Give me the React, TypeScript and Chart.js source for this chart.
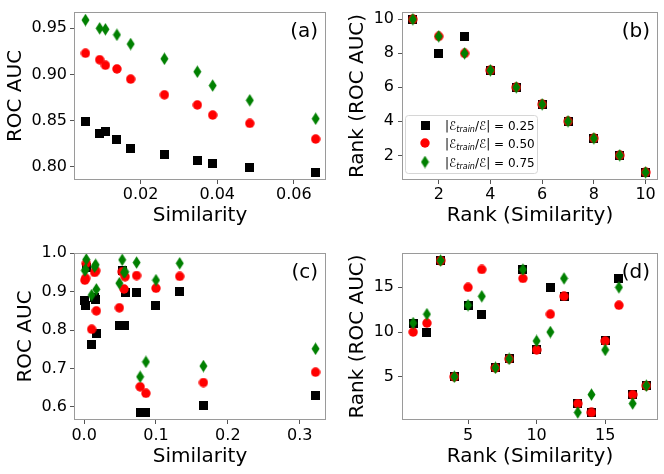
import React, { useEffect, useRef } from 'react';
import { Chart, registerables } from 'chart.js';

Chart.register(...registerables);

const FONT = '"DejaVu Sans", sans-serif';

// ---- Panel (a): similarity vs ROC AUC (10 graphs)
const SIM_A = [0.0056, 0.0093, 0.0108, 0.0138, 0.0174, 0.0262, 0.0348, 0.0388, 0.0485, 0.0657];
const AUC_A_025 = [0.849, 0.836, 0.838, 0.830, 0.820, 0.813, 0.807, 0.803, 0.799, 0.794];
const AUC_A_050 = [0.923, 0.916, 0.910, 0.906, 0.895, 0.878, 0.867, 0.856, 0.847, 0.830];
const AUC_A_075 = [0.959, 0.950, 0.949, 0.943, 0.933, 0.917, 0.903, 0.888, 0.872, 0.852];
const X_TICKS_A = [0.02, 0.04, 0.06];
const Y_TICKS_A = [0.80, 0.85, 0.90, 0.95];

// ---- Panel (b): rank vs rank
const RANK_SIM_B = [1, 2, 3, 4, 5, 6, 7, 8, 9, 10];
const RANK_AUC_B_025 = [10, 8, 9, 7, 6, 5, 4, 3, 2, 1];
const RANK_AUC_B_050 = [10, 9, 8, 7, 6, 5, 4, 3, 2, 1];
const RANK_AUC_B_075 = [10, 9, 8, 7, 6, 5, 4, 3, 2, 1];
const X_TICKS_B = [2, 4, 6, 8, 10];
const Y_TICKS_B = [2, 4, 6, 8, 10];

// ---- Panel (c): similarity vs ROC AUC (18 graphs)
const SIM_C = [0.001, 0.002, 0.003, 0.0105, 0.0146, 0.016, 0.017, 0.049, 0.053, 0.0555, 0.057, 0.073, 0.078, 0.086, 0.100, 0.133, 0.166, 0.322];
const AUC_C_025 = [0.876, 0.865, 0.962, 0.761, 0.884, 0.880, 0.791, 0.812, 0.955, 0.813, 0.898, 0.897, 0.585, 0.584, 0.863, 0.900, 0.602, 0.630];
const AUC_C_050 = [0.930, 0.935, 0.974, 0.802, 0.950, 0.955, 0.850, 0.858, 0.952, 0.907, 0.939, 0.942, 0.652, 0.635, 0.909, 0.940, 0.663, 0.690];
const AUC_C_075 = [0.955, 0.958, 0.984, 0.891, 0.965, 0.970, 0.906, 0.922, 0.983, 0.950, 0.952, 0.976, 0.678, 0.717, 0.930, 0.974, 0.706, 0.751];
const X_TICKS_C = [0.0, 0.1, 0.2, 0.3];
const Y_TICKS_C = [0.6, 0.7, 0.8, 0.9, 1.0];

// ---- Panel (d): rank vs rank
const RANK_SIM_D = [1, 2, 3, 4, 5, 6, 7, 8, 9, 10, 11, 12, 13, 14, 15, 16, 17, 18];
const RANK_AUC_D_025 = [11, 10, 18, 5, 13, 12, 6, 7, 17, 8, 15, 14, 2, 1, 9, 16, 3, 4];
const RANK_AUC_D_050 = [10, 11, 18, 5, 15, 17, 6, 7, 16, 8, 12, 14, 2, 1, 9, 13, 3, 4];
const RANK_AUC_D_075 = [11, 12, 18, 5, 13, 14, 6, 7, 17, 9, 10, 16, 1, 3, 8, 15, 2, 4];
const X_TICKS_D = [5, 10, 15];
const Y_TICKS_D = [5, 10, 15];

const LEGEND_VALUES = ['0.25', '0.50', '0.75'];
const SERIES_COLORS = ['#000000', '#ff0000', '#008000'];

const PANELS = [
  {
    label: '(a)', left: 0, top: 0, pad: { left: 0, top: 12, right: 2, bottom: 9 }, wy: 74, hx: 48,
    yTitlePad: 4, yTickPad: 3, xTickPad: 1,
    xs: SIM_A, ys: [AUC_A_025, AUC_A_050, AUC_A_075],
    xMin: 0.0026, xMax: 0.0684, yMin: 0.7856, yMax: 0.9677,
    xTicks: X_TICKS_A, yTicks: Y_TICKS_A,
    fx: (v) => v.toFixed(2), fy: (v) => v.toFixed(2),
    xTitle: 'Similarity', yTitle: 'ROC AUC', legend: false,
  },
  {
    label: '(b)', left: 332, top: 0, pad: { left: 0, top: 12, right: 5, bottom: 9 }, wy: 70, hx: 48,
    yTitlePad: 14, yTickPad: 4, xTickPad: 1,
    xs: RANK_SIM_B, ys: [RANK_AUC_B_025, RANK_AUC_B_050, RANK_AUC_B_075],
    xMin: 0.58, xMax: 10.48, yMin: 0.55, yMax: 10.43,
    xTicks: X_TICKS_B, yTicks: Y_TICKS_B,
    fx: (v) => String(v), fy: (v) => String(v),
    xTitle: 'Rank (Similarity)', yTitle: 'Rank (ROC AUC)', legend: true,
  },
  {
    label: '(c)', left: 0, top: 237, pad: { left: 0, top: 16, right: 2, bottom: 5 }, wy: 74, hx: 49,
    yTitlePad: 14, yTickPad: 3, xTickPad: 2,
    xs: SIM_C, ys: [AUC_C_025, AUC_C_050, AUC_C_075],
    xMin: -0.0141, xMax: 0.3366, yMin: 0.5653, yMax: 1.0008,
    xTicks: X_TICKS_C, yTicks: Y_TICKS_C,
    fx: (v) => v.toFixed(1), fy: (v) => v.toFixed(1),
    xTitle: 'Similarity', yTitle: 'ROC AUC', legend: false,
  },
  {
    label: '(d)', left: 332, top: 237, pad: { left: 0, top: 16, right: 5, bottom: 5 }, wy: 70, hx: 49,
    yTitlePad: 14, yTickPad: 4, xTickPad: 2,
    xs: RANK_SIM_D, ys: [RANK_AUC_D_025, RANK_AUC_D_050, RANK_AUC_D_075],
    xMin: 0.185, xMax: 18.85, yMin: 0.16, yMax: 18.84,
    xTicks: X_TICKS_D, yTicks: Y_TICKS_D,
    fx: (v) => String(v), fy: (v) => String(v),
    xTitle: 'Rank (Similarity)', yTitle: 'Rank (ROC AUC)', legend: false,
  },
];

function makeMarker(kind: string): HTMLCanvasElement {
  const c = document.createElement('canvas');
  if (kind === 'square') {
    c.width = 9; c.height = 9;
    const g = c.getContext('2d')!;
    g.fillStyle = SERIES_COLORS[0];
    g.fillRect(0, 0, 9, 9);
  } else if (kind === 'circle') {
    c.width = 10; c.height = 10;
    const g = c.getContext('2d')!;
    g.fillStyle = SERIES_COLORS[1];
    g.beginPath();
    g.arc(5, 5, 4.7, 0, Math.PI * 2);
    g.fill();
  } else {
    c.width = 9; c.height = 13;
    const g = c.getContext('2d')!;
    g.fillStyle = SERIES_COLORS[2];
    g.beginPath();
    g.moveTo(4.5, 0.2);
    g.lineTo(8.5, 6.5);
    g.lineTo(4.5, 12.8);
    g.lineTo(0.5, 6.5);
    g.closePath();
    g.fill();
  }
  return c;
}

function drawLegend(ctx: CanvasRenderingContext2D, a: any, markers: HTMLCanvasElement[]) {
  const bx = Math.round(a.left) + 3.5;
  const by = Math.round(a.bottom) - 64.5;
  const bw = 132, bh = 58;
  ctx.save();
  ctx.beginPath();
  if ((ctx as any).roundRect) (ctx as any).roundRect(bx, by, bw, bh, 3);
  else ctx.rect(bx, by, bw, bh);
  ctx.fillStyle = 'rgba(255,255,255,0.8)';
  ctx.fill();
  ctx.strokeStyle = '#d6d6d6';
  ctx.lineWidth = 1;
  ctx.stroke();
  const rows = [a.bottom - 55, a.bottom - 37, a.bottom - 18];
  LEGEND_VALUES.forEach((val, i) => {
    const y = rows[i];
    const m = markers[i];
    ctx.drawImage(m, a.left + 23 - m.width / 2, y - m.height / 2);
    let x = a.left + 43;
    ctx.textAlign = 'left';
    ctx.textBaseline = 'alphabetic';
    ctx.fillStyle = '#000';
    const base = y + 4.5;
    const seg = (t: string, font: string, dy = 0) => {
      ctx.font = font;
      ctx.fillText(t, x, base + dy);
      x += ctx.measureText(t).width;
    };
    const n = `12px ${FONT}`;
    seg('|', n);
    seg('ℰ', n);
    seg('train', `italic 8px ${FONT}`, 2.5);
    seg('/', n);
    seg('ℰ', n);
    seg('|', n);
    seg(' = ' + val, n);
  });
  ctx.restore();
}

function framePlugin(p: any, markers: HTMLCanvasElement[]) {
  return {
    id: 'frame' + p.label,
    afterDatasetsDraw(chart: any) {
      const { ctx, chartArea: a } = chart;
      ctx.save();
      ctx.strokeStyle = '#9a9a9a';
      ctx.lineWidth = 1;
      ctx.strokeRect(Math.round(a.left) + 0.5, Math.round(a.top) + 0.5,
        Math.round(a.right) - Math.round(a.left) - 1, Math.round(a.bottom) - Math.round(a.top) - 1);
      ctx.restore();
    },
    afterDraw(chart: any) {
      const { ctx, chartArea: a } = chart;
      ctx.save();
      ctx.font = `20px ${FONT}`;
      ctx.fillStyle = '#000';
      ctx.textAlign = 'right';
      ctx.textBaseline = 'middle';
      ctx.fillText(p.label, a.right - 8, a.top + 20);
      ctx.restore();
      if (p.legend) drawLegend(ctx, a, markers);
    },
  };
}

function buildConfig(p: any, markers: HTMLCanvasElement[]): any {
  const datasets = p.ys.map((ys: number[], k: number) => ({
    label: LEGEND_VALUES[k],
    data: p.xs.map((x: number, j: number) => ({ x, y: ys[j] })),
    pointStyle: markers[k],
    pointRadius: 5,
    pointHoverRadius: 5,
    backgroundColor: SERIES_COLORS[k],
    borderColor: SERIES_COLORS[k],
    order: 3 - k,
    clip: 0,
  }));
  const gridOpts = { display: true, drawOnChartArea: false, drawTicks: true, tickLength: 4, tickColor: '#555', tickWidth: 1 };
  return {
    type: 'scatter',
    data: { datasets },
    options: {
      responsive: false,
      animation: false,
      devicePixelRatio: 1,
      events: [],
      layout: { padding: p.pad },
      plugins: { legend: { display: false }, tooltip: { enabled: false } },
      scales: {
        x: {
          type: 'linear', min: p.xMin, max: p.xMax,
          afterBuildTicks: (s: any) => { s.ticks = p.xTicks.map((v: number) => ({ value: v })); },
          afterFit: (s: any) => { s.height = p.hx; s.paddingLeft = 0; s.paddingRight = 0; },
          ticks: { font: { family: FONT, size: 16 }, color: '#000', padding: p.xTickPad, autoSkip: false, maxRotation: 0, minRotation: 0, callback: (v: number) => p.fx(v) },
          grid: gridOpts,
          border: { display: false },
          title: { display: true, text: p.xTitle, font: { family: FONT, size: 20 }, color: '#000', padding: { top: 0, bottom: 0 } },
        },
        y: {
          type: 'linear', min: p.yMin, max: p.yMax,
          afterBuildTicks: (s: any) => { s.ticks = p.yTicks.map((v: number) => ({ value: v })); },
          afterFit: (s: any) => { s.width = p.wy; s.paddingTop = 0; s.paddingBottom = 0; },
          ticks: { font: { family: FONT, size: 16 }, color: '#000', padding: p.yTickPad, autoSkip: false, callback: (v: number) => p.fy(v) },
          grid: gridOpts,
          border: { display: false },
          title: { display: true, text: p.yTitle, font: { family: FONT, size: 20 }, color: '#000', padding: { top: p.yTitlePad, bottom: 0 } },
        },
      },
    },
    plugins: [framePlugin(p, markers)],
  };
}

export default function App() {
  const r0 = useRef<HTMLCanvasElement>(null);
  const r1 = useRef<HTMLCanvasElement>(null);
  const r2 = useRef<HTMLCanvasElement>(null);
  const r3 = useRef<HTMLCanvasElement>(null);
  const refs = [r0, r1, r2, r3];

  useEffect(() => {
    const markers = [makeMarker('square'), makeMarker('circle'), makeMarker('diamond')];
    const charts = PANELS.map((p, i) => new Chart(refs[i].current as HTMLCanvasElement, buildConfig(p, markers)));
    return () => charts.forEach((c) => c.destroy());
  }, []);

  return (
    <div style={{ position: 'absolute', left: 0, top: 0, width: 664, height: 474, background: '#fff' }}>
      {PANELS.map((p, i) => (
        <canvas
          key={i}
          ref={refs[i]}
          width={332}
          height={237}
          style={{ position: 'absolute', left: p.left, top: p.top, width: 332, height: 237 }}
        />
      ))}
    </div>
  );
}
